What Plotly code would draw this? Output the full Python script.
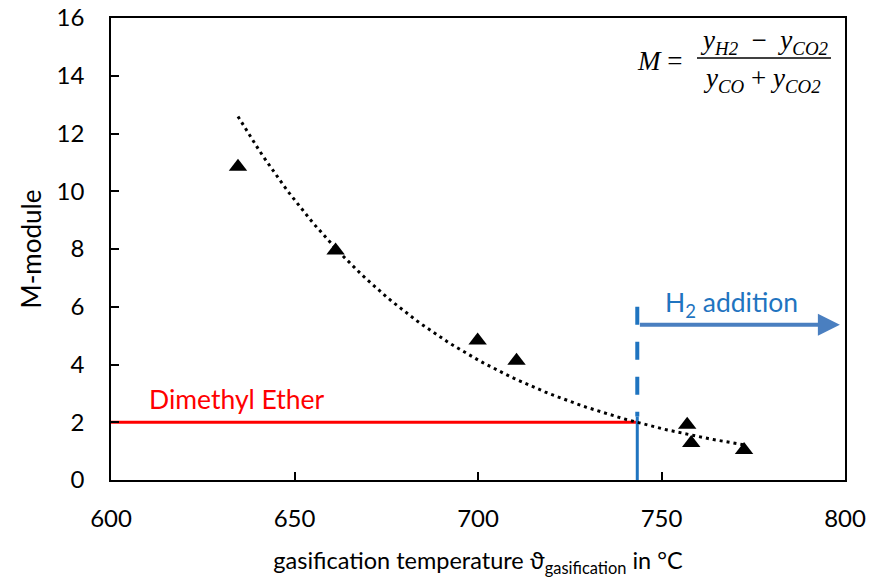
import numpy as np
import plotly.graph_objects as go

# Data
temp = [634.6, 661.2, 699.9, 710.5, 757.0, 758.1, 772.5]
m_module = [10.85, 7.95, 4.83, 4.13, 1.91, 1.28, 1.04]

dme_level = 2.0
dme_temp = 743.4
h2_dash_top = 6.0
h2_solid_top = 2.2
arrow_y = 5.38
arrow_x_end = 798.6

x_ticks = [600, 650, 700, 750, 800]
y_ticks = [0, 2, 4, 6, 8, 10, 12, 14, 16]

# exponential trendline fit (as Excel)
b, a = np.polyfit(temp, np.log(m_module), 1)
xt = np.linspace(min(temp), max(temp), 100)
yt = np.exp(a) * np.exp(b * xt)

FONT = "Lato"
BLUE = "#1f74c0"
L, R, T, B = 111, 32, 18, 102
W, H = 877, 582
PW, PH = W - L - R, H - T - B


def px(x):
    return (x - L) / PW


def py(y):
    return 1 - (y - T) / PH


fig = go.Figure()
# red DME line
fig.add_trace(go.Scatter(x=[600, dme_temp], y=[dme_level, dme_level], mode="lines",
                         line=dict(color="#ff0000", width=3), hoverinfo="skip"))
# blue vertical solid
fig.add_trace(go.Scatter(x=[dme_temp, dme_temp], y=[0, h2_solid_top], mode="lines",
                         line=dict(color=BLUE, width=3), hoverinfo="skip"))
# blue vertical dashed (drawn top-down so the dash pattern starts at the top)
fig.add_trace(go.Scatter(x=[dme_temp, dme_temp], y=[h2_dash_top, h2_solid_top], mode="lines",
                         line=dict(color=BLUE, width=4, dash="18px,17px"), hoverinfo="skip"))
# trendline
fig.add_trace(go.Scatter(x=xt, y=yt, mode="lines",
                         line=dict(color="black", width=3, dash="3px,4px"), hoverinfo="skip"))
# data points
fig.add_trace(go.Scatter(x=temp, y=m_module, mode="markers",
                         marker=dict(symbol="triangle-up", size=16, color="black")))

# arrow
fig.add_annotation(x=arrow_x_end, y=arrow_y, ax=dme_temp + 0.3, ay=arrow_y,
                   xref="x", yref="y", axref="x", ayref="y", text="",
                   showarrow=True, arrowhead=2, arrowsize=1.1, arrowwidth=4,
                   arrowcolor="#4a7fc0")
fig.add_annotation(x=750.3, y=6.11, xref="x", yref="y",
                   text="H<sub>2</sub> addition", showarrow=False, xanchor="left", yanchor="middle",
                   font=dict(family=FONT, size=26.5, color=BLUE))
fig.add_annotation(x=609.8, y=2.81, xref="x", yref="y",
                   text="Dimethyl Ether", showarrow=False, xanchor="left", yanchor="middle",
                   font=dict(family=FONT, size=26.5, color="#ff0000"))

# formula
SERIF = "Liberation Serif"
fig.add_annotation(x=px(684), y=py(61), xref="paper", yref="paper",
                   text="<i>M</i> =", showarrow=False, xanchor="right", yanchor="middle",
                   font=dict(family=SERIF, size=27, color="black"))
fig.add_annotation(x=px(764), y=py(42), xref="paper", yref="paper",
                   text="<i>y</i><sub><i>H2</i></sub>  −  <i>y</i><sub><i>CO2</i></sub>",
                   showarrow=False, xanchor="center", yanchor="middle",
                   font=dict(family=SERIF, size=27, color="black"))
fig.add_annotation(x=px(762), y=py(80), xref="paper", yref="paper",
                   text="<i>y</i><sub><i>CO</i></sub> + <i>y</i><sub><i>CO2</i></sub>",
                   showarrow=False, xanchor="center", yanchor="middle",
                   font=dict(family=SERIF, size=27, color="black"))
fig.add_shape(type="line", xref="paper", yref="paper",
              x0=px(697), x1=px(831), y0=py(58), y1=py(58),
              line=dict(color="black", width=1.5))

fig.update_layout(
    width=W, height=H,
    margin=dict(l=L, r=R, t=T, b=B, autoexpand=False),
    paper_bgcolor="white", plot_bgcolor="white",
    showlegend=False,
    font=dict(family=FONT, size=24, color="black"),
    xaxis=dict(range=[600, 800], tickvals=x_ticks, ticks="inside", ticklen=8, tickwidth=1.5,
               tickcolor="black", showline=True, linecolor="black", linewidth=1.5, mirror=True,
               showgrid=False, zeroline=False, ticklabelstandoff=16, automargin=False,
               title=dict(text="gasification temperature ϑ<sub>gasification</sub> in °C",
                          font=dict(size=23.5), standoff=22)),
    yaxis=dict(range=[0, 16], tickvals=y_ticks, ticks="inside", ticklen=8, tickwidth=1.5,
               tickcolor="black", showline=True, linecolor="black", linewidth=1.5, mirror=True,
               showgrid=False, zeroline=False, ticklabelstandoff=20, automargin=False,
               title=dict(text="M-module", font=dict(size=26), standoff=8)),
)

fig.write_html("out.html", config={"displayModeBar": False},
               post_script="document.body.style.margin='0';")
